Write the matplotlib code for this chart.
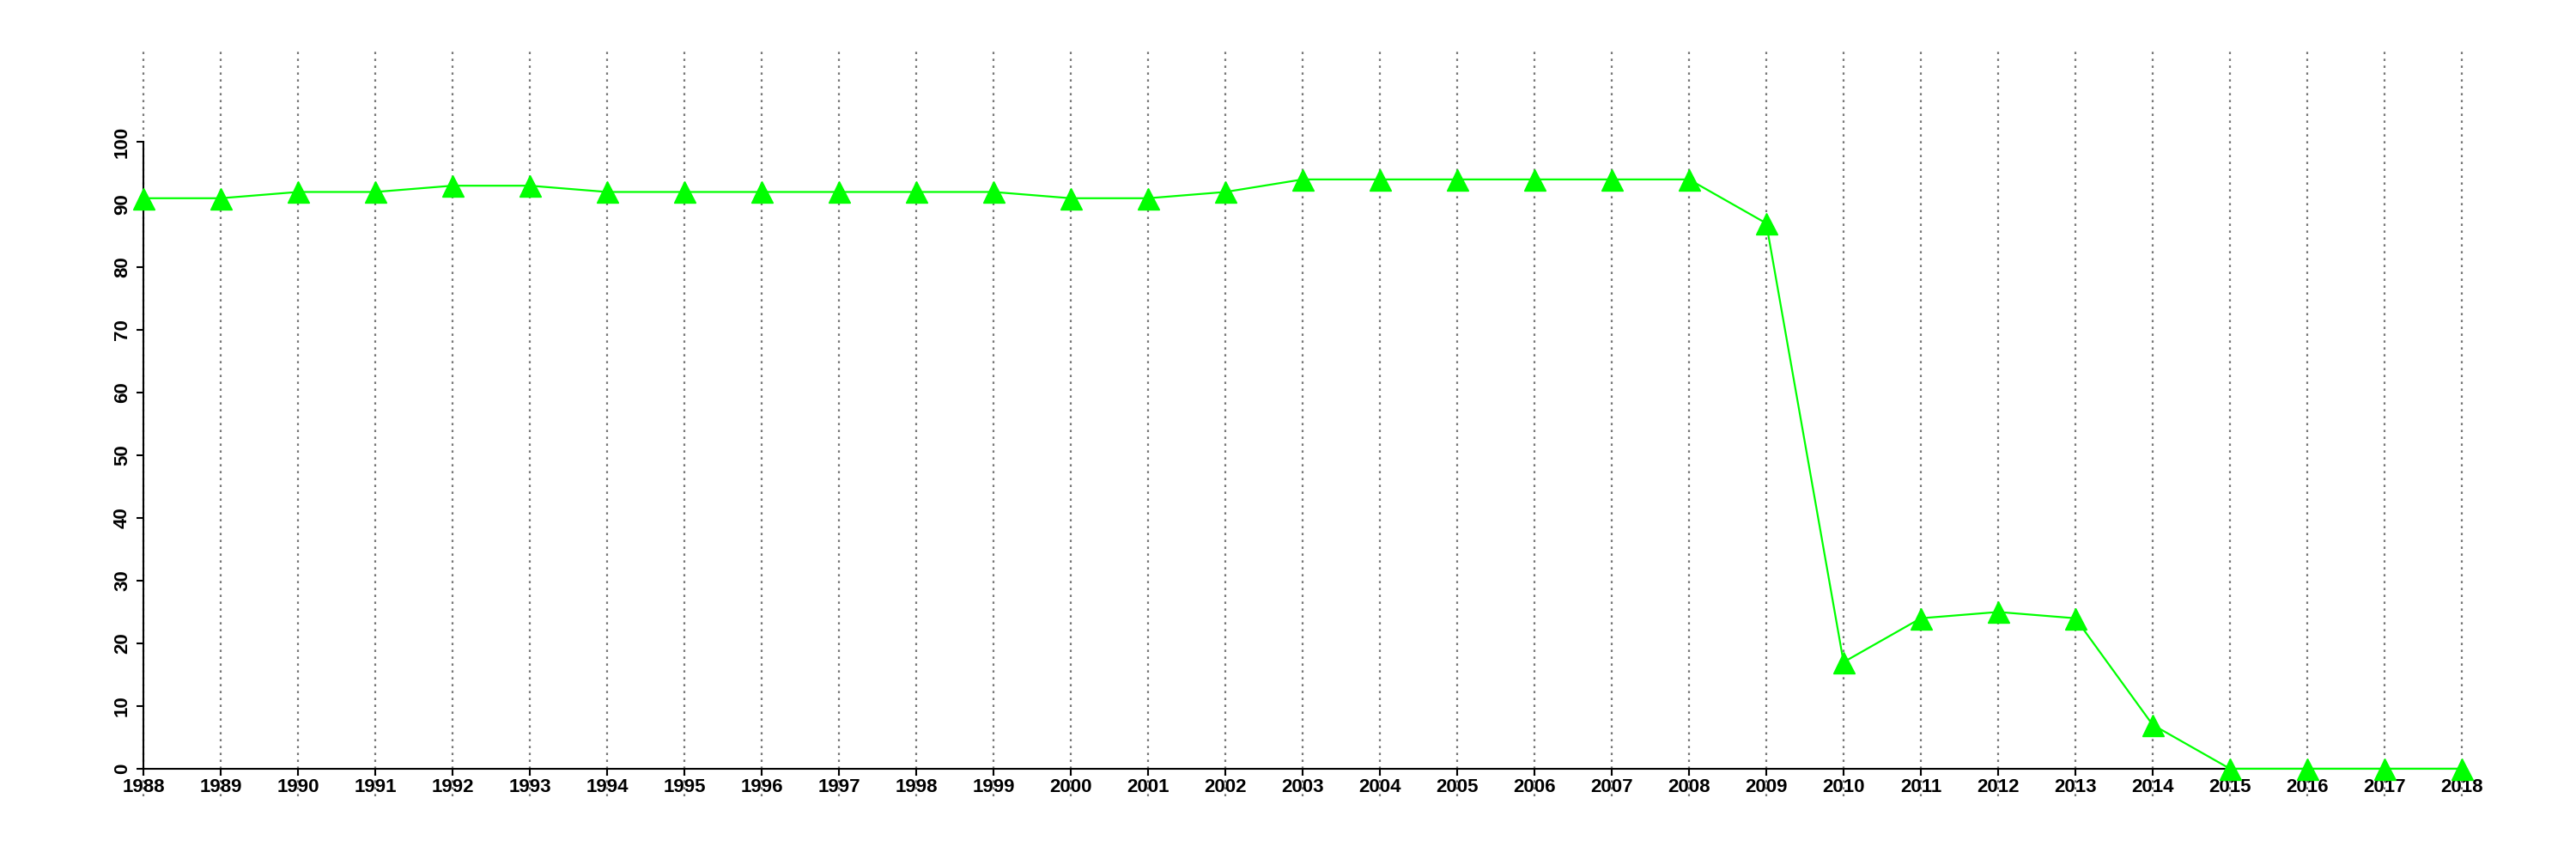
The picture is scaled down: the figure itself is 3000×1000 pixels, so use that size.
import matplotlib
matplotlib.use("Agg")
import matplotlib.pyplot as plt

# dados
anos = list(range(1988, 2019))
valores = [91, 91, 92, 92, 93, 93, 92, 92, 92, 92, 92, 92, 91, 91, 92,
           94, 94, 94, 94, 94, 94, 87, 17, 24, 25, 24, 7, 0, 0, 0, 0]
yticks = [0, 10, 20, 30, 40, 50, 60, 70, 80, 90, 100]

plt.rcParams['font.family'] = ['Liberation Sans', 'DejaVu Sans']

fig = plt.figure(figsize=(30, 10), dpi=100)
ax = fig.add_axes([59/3000, 0.073, (2975-59)/3000, 0.94-0.073])

ax.plot(anos, valores, color='#00ff00', lw=1.6, marker='^', ms=18,
        mec='#00ff00', mfc='#00ff00', zorder=3, clip_on=False)

ax.set_xlim(1986.8, 2019.2)
ax.set_ylim(-4.4, 114.4)

for s in ['top', 'right']:
    ax.spines[s].set_visible(False)
# set_position reinicia os ticks, por isso vem antes dos labels
ax.spines['left'].set_position(('data', 1988))
ax.spines['bottom'].set_position(('data', 0))
ax.spines['left'].set_bounds(0, 100)
ax.spines['bottom'].set_bounds(1988, 2018)
ax.spines['left'].set_linewidth(1.5)
ax.spines['bottom'].set_linewidth(1.5)

ax.set_xticks(anos)
ax.set_xticklabels([str(a) for a in anos], fontsize=16, fontweight='bold')
ax.set_yticks(yticks)
ax.set_yticklabels([str(v) for v in yticks], fontsize=16, fontweight='bold',
                   rotation=90, va='center')
ax.tick_params(axis='both', length=6, width=1.5, pad=2)
ax.tick_params(axis='y', pad=4)

ax.grid(axis='x', color='#777777', linestyle=(0, (1.2, 2.4)), lw=1.6, zorder=1)

fig.savefig('out.png', dpi=100)
